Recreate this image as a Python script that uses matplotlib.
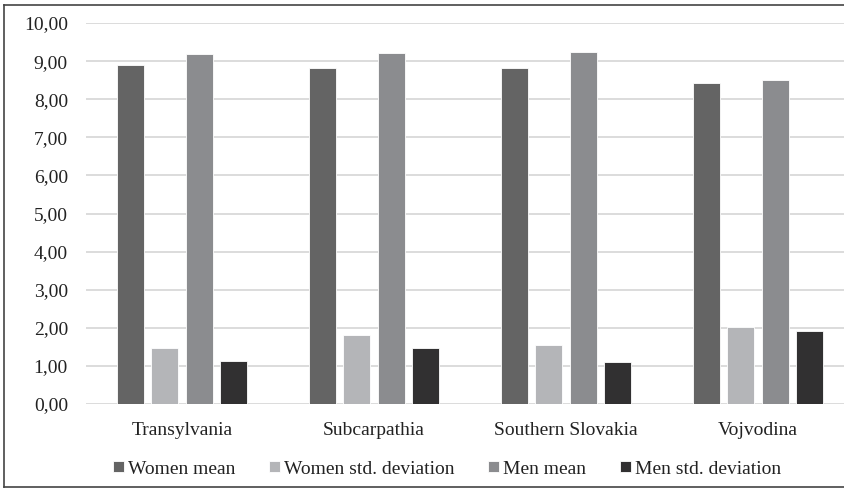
import numpy as np
import matplotlib.pyplot as plt
from matplotlib.lines import Line2D
from matplotlib.ticker import FuncFormatter

regions = ['Transylvania', 'Subcarpathia', 'Southern Slovakia', 'Vojvodina']
women_mean = [8.90, 8.82, 8.82, 8.42]
women_sd = [1.47, 1.82, 1.55, 2.03]
men_mean = [9.19, 9.20, 9.25, 8.50]
men_sd = [1.12, 1.47, 1.09, 1.92]

series = [women_mean, women_sd, men_mean, men_sd]
names = ['Women mean', 'Women std. deviation', 'Men mean', 'Men std. deviation']
colors = ['#646464', '#b4b5b8', '#8b8c8f', '#313031']

plt.rcParams['font.family'] = ['Liberation Serif', 'DejaVu Serif']

W, H = 845, 488
fig = plt.figure(figsize=(W/100, H/100), dpi=100)
# plot area runs past the right edge of the figure
ax = fig.add_axes([86/W, 1-404/H, (854-86)/W, (404-23)/H])

x = np.arange(len(regions))
w = 0.14
step = 0.18
for i, (vals, name, c) in enumerate(zip(series, names, colors)):
    ax.bar(x + (i - 1.5)*step, vals, w, color=c, edgecolor='white',
           linewidth=0.6, label=name, zorder=3)

ax.set_xlim(-0.5, 3.5)
ax.set_ylim(0, 10)
ax.set_yticks(np.arange(0, 11, 1))
ax.yaxis.set_major_formatter(FuncFormatter(lambda v, p: f'{v:.2f}'.replace('.', ',')))
ax.set_xticks(x)
ax.set_xticklabels(regions)
ax.grid(axis='y', color='#d9d9d9', linewidth=1.3, zorder=0)
for s in ax.spines.values():
    s.set_visible(False)
ax.tick_params(length=0, labelsize=14, colors='#222222')
ax.tick_params(axis='y', pad=13)
ax.tick_params(axis='x', pad=13)

leg = fig.legend(loc='center', bbox_to_anchor=(0.529, 1-469/H), ncol=4,
                 frameon=False, fontsize=14, handlelength=0.55,
                 handleheight=0.55, handletextpad=0.2, columnspacing=1.75)
for t in leg.get_texts():
    t.set_color('#222222')

# frame on top, left and bottom
fx0, fy0, fy1 = 4.5/W, 1-486.5/H, 1-4.5/H
for xs, ys in [([fx0, 1], [fy1, fy1]), ([fx0, fx0], [fy0, fy1]), ([fx0, 1], [fy0, fy0])]:
    fig.add_artist(Line2D(xs, ys, transform=fig.transFigure,
                          color='#444444', linewidth=1.2))

fig.savefig('out.png', dpi=100)
